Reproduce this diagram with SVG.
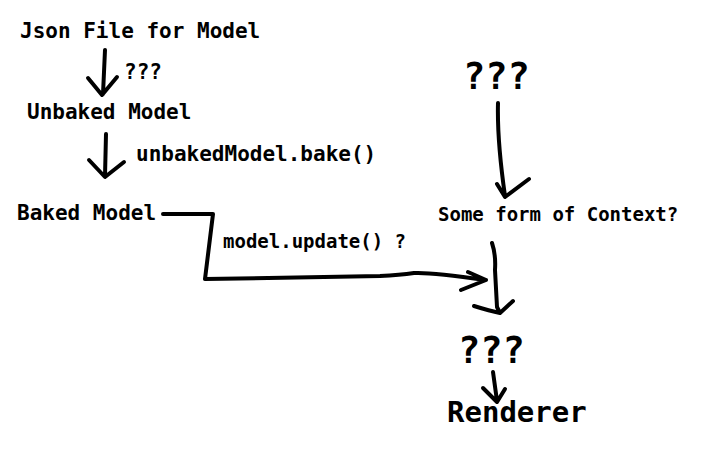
<svg xmlns="http://www.w3.org/2000/svg" width="716" height="452" viewBox="0 0 716 452">
<style>
text{font-family:"DejaVu Sans Mono","Liberation Mono",monospace;font-weight:bold;fill:#000}
.m{font-size:21px}
.s{font-size:19px}
.b{font-size:37px}
.r{font-size:29px}
.ln{fill:none;stroke:#000;stroke-width:4;stroke-linecap:round;stroke-linejoin:round}
</style>
<rect width="716" height="452" fill="#fff"/>
<g id="json"><text class="m" x="20" y="38">Json File for Model</text></g>
<g id="unbaked"><text class="m" x="27" y="119">Unbaked Model</text></g>
<g id="baked"><text class="m" x="17" y="220">Baked Model</text></g>
<g id="q-top"><text class="b" x="463" y="89">???</text></g>
<g id="context"><text class="s" x="438" y="221">Some form of Context?</text></g>
<g id="q-bottom"><text class="b" x="458" y="363">???</text></g>
<g id="renderer"><text class="r" x="447" y="422">Renderer</text></g>
<g id="connectors">
<path class="ln" d="M105 50 L103 94 M88 78 L102 95 L117 77"/>
<text class="m" x="124" y="79">???</text>
<path class="ln" d="M106 134 L105 176 M89 160 L105 177 L124 162"/>
<text class="m" x="136" y="161">unbakedModel.bake()</text>
<path class="ln" d="M498 103 Q497 140 505 196 M497 184 L505 197 L529 179"/>
<path class="ln" d="M163 214 L213 214 L205 279 L380 276 Q400 275 414 273 Q430 272 486 280 M468 272 L486 280 L461 290"/>
<text class="s" x="223" y="248">model.update() ?</text>
<path class="ln" d="M492 243 Q496 255 495 270 L497 307 L500 313 M474 306 Q490 311 500 313 L513 301"/>
<path class="ln" d="M493 372 L497 401 M483 388 L497 402 L505 389"/>
</g>
</svg>
